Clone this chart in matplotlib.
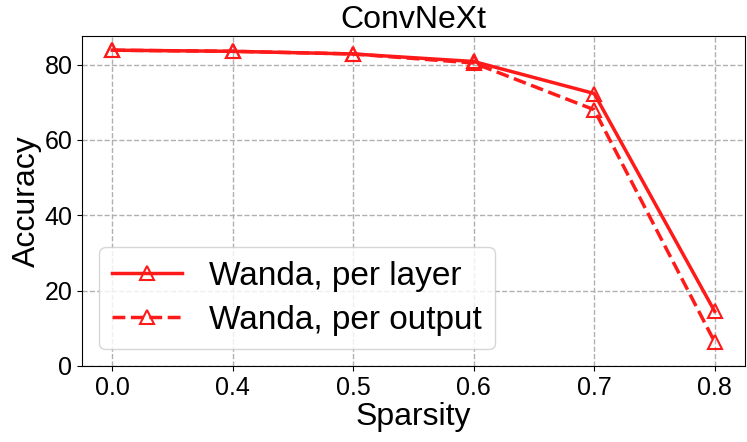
import matplotlib
matplotlib.use('Agg')
import matplotlib.pyplot as plt

plt.rcParams['font.family'] = ['Liberation Sans', 'DejaVu Sans']

sparsity = ['0.0', '0.4', '0.5', '0.6', '0.7', '0.8']
per_layer = [83.8, 83.5, 82.8, 80.8, 72.3, 14.5]
per_output = [83.8, 83.5, 82.8, 80.4, 68.0, 6.4]

fig, ax = plt.subplots(figsize=(7.47, 4.42), dpi=100)
x = range(len(sparsity))
ax.plot(x, per_layer, '-', color='#ff1a1a', marker='^', markersize=10,
        markerfacecolor='none', markeredgewidth=1.5, linewidth=2.5,
        label='Wanda, per layer')
ax.plot(x, per_output, '--', color='#ff1a1a', marker='^', markersize=10,
        markerfacecolor='none', markeredgewidth=1.5, linewidth=2.5,
        label='Wanda, per output')

ax.set_xticks(list(x))
ax.set_xticklabels(sparsity)
ax.set_ylim(0, 87.5)
ax.set_yticks([0, 20, 40, 60, 80])
ax.tick_params(labelsize=18)
ax.set_xlabel('Sparsity', fontsize=23, labelpad=2)
ax.set_ylabel('Accuracy', fontsize=23, labelpad=2)
ax.set_title('ConvNeXt', fontsize=23, pad=6)
ax.grid(True, linestyle='--', color='#b0b0b0', linewidth=1)
ax.legend(fontsize=24, loc='lower left', handlelength=2.1, labelspacing=0.4)

plt.subplots_adjust(left=0.11, right=0.997, top=0.918, bottom=0.172)
plt.savefig('out.png', dpi=100)
